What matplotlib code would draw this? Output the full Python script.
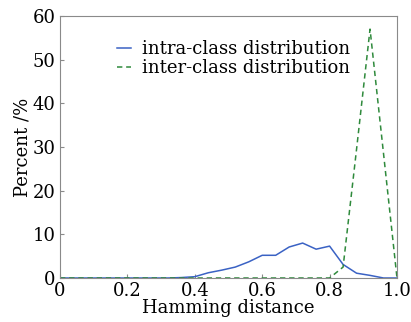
import matplotlib
matplotlib.use("Agg")
import matplotlib.pyplot as plt
import numpy as np

# Hamming distance bins (step 0.04)
hd = [0.00, 0.04, 0.08, 0.12, 0.16, 0.20, 0.24, 0.28, 0.32, 0.36,
      0.40, 0.44, 0.48, 0.52, 0.56, 0.60, 0.64, 0.68, 0.72, 0.76,
      0.80, 0.84, 0.88, 0.92, 0.96, 1.00]

intra = [0, 0, 0, 0, 0, 0, 0, 0, 0, 0.1,
         0.3, 1.2, 1.8, 2.5, 3.7, 5.2, 5.2, 7.1, 8.0, 6.6,
         7.3, 3.1, 1.1, 0.6, 0.0, 0.0]

inter = [0, 0, 0, 0, 0, 0, 0, 0, 0, 0,
         0, 0, 0, 0, 0, 0, 0, 0, 0, 0,
         0, 2.5, 29.5, 57.0, 28.5, 0.0]

xticks = [0, 0.2, 0.4, 0.6, 0.8, 1.0]
xtick_labels = ["0", "0.2", "0.4", "0.6", "0.8", "1.0"]
yticks = [0, 10, 20, 30, 40, 50, 60]

plt.rcParams['font.family'] = ['DejaVu Serif']
plt.rcParams['mathtext.fontset'] = 'dejavuserif'

fig = plt.figure(figsize=(4.11, 3.22), dpi=100)
ax = fig.add_axes([60 / 411, 1 - 278 / 322, 337 / 411, 262 / 322])

ax.plot(hd, intra, color='#3a62c4', lw=1.1, label='intra-class distribution')
ax.plot(hd, inter, color='#2f8a3c', lw=1.1, ls=(0, (3.5, 2.5)), label='inter-class distribution')

ax.set_xlim(0, 1.0)
ax.set_ylim(0, 60)
ax.set_xticks(xticks)
ax.set_xticklabels(xtick_labels)
ax.set_yticks(yticks)

for s in ax.spines.values():
    s.set_color('#8a8a8a')
    s.set_linewidth(0.8)
ax.tick_params(direction='in', length=3, width=0.8, color='#8a8a8a',
               labelsize=13, pad=3)

ax.set_xlabel('Hamming distance', fontsize=13, labelpad=-1)
ax.set_ylabel('Percent /%', fontsize=13, labelpad=1)

ax.legend(loc='upper center', bbox_to_anchor=(0.515, 0.97), frameon=False,
          fontsize=13, handlelength=0.75, handletextpad=0.6, labelspacing=0.05)

fig.savefig('out.png', dpi=100)
